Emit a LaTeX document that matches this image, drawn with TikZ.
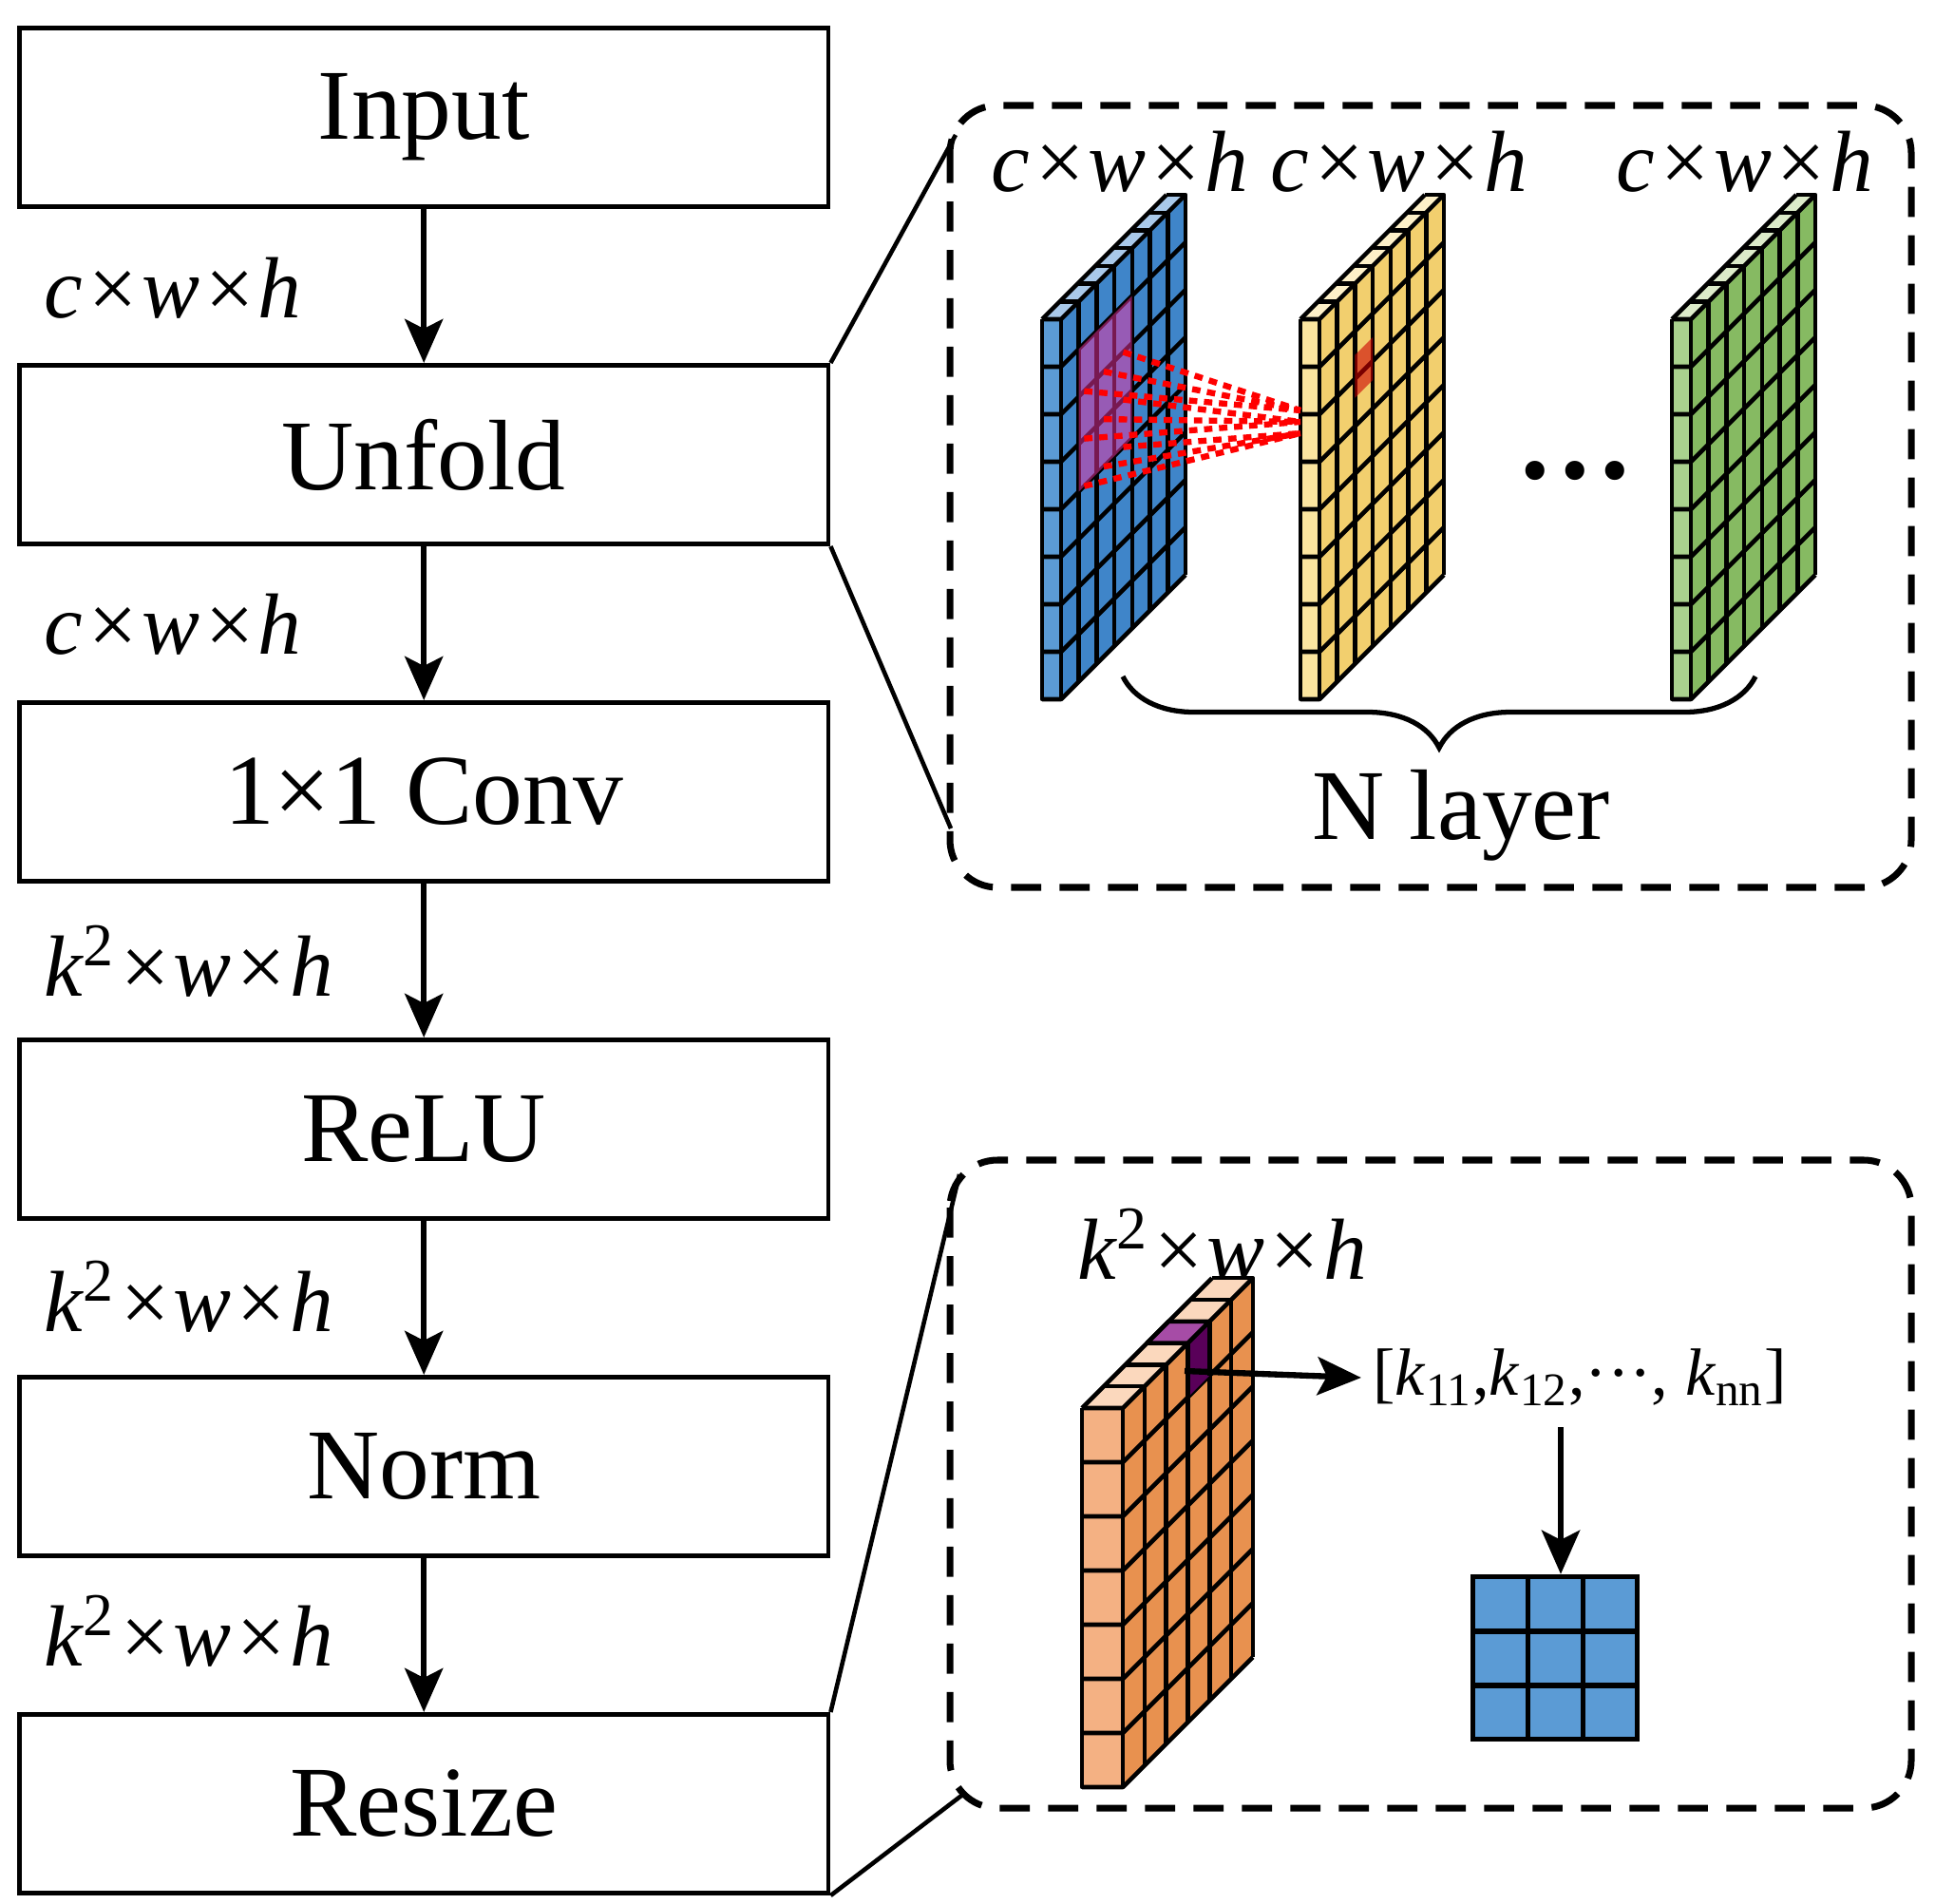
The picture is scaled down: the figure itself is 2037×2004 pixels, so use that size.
\documentclass[tikz,border=0pt]{standalone}
\usepackage{fontspec}
\setmainfont{Liberation Serif}
\usetikzlibrary{arrows.meta,decorations.pathreplacing}
\definecolor{bfront}{HTML}{5B9BD5}\definecolor{bside}{HTML}{3F85C9}\definecolor{btop}{HTML}{A9C9EA}
\definecolor{yfront}{HTML}{FBE5A0}\definecolor{yside}{HTML}{F2CF6E}\definecolor{ytop}{HTML}{FDF0C8}
\definecolor{gfront}{HTML}{A9D18E}\definecolor{gside}{HTML}{86BA62}\definecolor{gtop}{HTML}{DCEBC9}
\definecolor{ofront}{HTML}{F4B183}\definecolor{oside}{HTML}{E8914F}\definecolor{otop}{HTML}{FBD8BD}
\definecolor{kblue}{HTML}{5B9BD5}
\newcommand{\myplate}[9]{% x0,y0,w,rows,rh,D,d,front,side ; top color in \mytop
 \pgfmathsetmacro{\pH}{#4*#5}\pgfmathsetmacro{\pS}{#6*#7}
 \fill[#8] (#1,#2) rectangle ++(#3,\pH);
 \fill[#9] (#1+#3,#2) -- ++(\pS,-\pS) -- ++(0,\pH) -- ++(-\pS,\pS) -- cycle;
 \fill[\mytop] (#1,#2) -- ++(#3,0) -- ++(\pS,-\pS) -- ++(-#3,0) -- cycle;
 \foreach \j in {0,...,#4}{\draw[cell] (#1,#2+\j*#5) -- ++(#3,0) -- ++(\pS,-\pS);}
 \foreach \i in {0,...,#6}{\draw[cell] (#1+\i*#7,#2-\i*#7) -- ++(#3,0) -- ++(0,\pH);}
 \draw[cell] (#1,#2) -- ++(0,\pH) -- ++(#3,0);
 \draw[cell] (#1,#2) -- ++(\pS,-\pS);
}
\begin{document}
\begin{tikzpicture}[x=0.01cm,y=-0.01cm,
 box/.style={draw,line width=1.4pt,minimum width=8.51cm,minimum height=1.88cm,anchor=north west,inner sep=0,font=\fontsize{30}{36}\selectfont},
 dim/.style={anchor=west,font=\fontsize{26}{30}\selectfont\itshape,inner sep=0},
 arr/.style={line width=1.8pt,-{Stealth[length=0.46cm,width=0.4cm,inset=0.1cm]}},
 dbox/.style={draw,line width=2pt,dash pattern=on 9pt off 5.5pt,rounded corners=0.5cm},
 cell/.style={line width=1.3pt,line join=round},
 conn/.style={line width=1.3pt}]
\useasboundingbox (0,0) rectangle (2037,2004);
\node[box] (in) at (18,27) {Input};
\node[box] (un) at (18,382) {Unfold};
\node[box] (cv) at (18,737) {1×1 Conv};
\node[box] (re) at (18,1092) {ReLU};
\node[box] (no) at (18,1447) {Norm};
\node[box] (rs) at (18,1802) {Resize};
\draw[arr] (in) -- (un);
\draw[arr] (un) -- (cv);
\draw[arr] (cv) -- (re);
\draw[arr] (re) -- (no);
\draw[arr] (no) -- (rs);
\node[dim] (l1) at (46,303) {c×w×h};
\node[dim] (l2) at (46,657) {c×w×h};
\node[dim] (l3) at (46,1012) {k\textsuperscript{\upshape 2}×w×h};
\node[dim] (l4) at (46,1365) {k\textsuperscript{\upshape 2}×w×h};
\node[dim] (l5) at (46,1717) {k\textsuperscript{\upshape 2}×w×h};
% dashed boxes
\draw[dbox] (1000,111) rectangle (2012,934);
\draw[dbox] (1000,1221) rectangle (2012,1903);
\coordinate (t1) at (1006,142); \coordinate (t2) at (1001,872);
\coordinate (b1) at (1010,1236); \coordinate (b2) at (1012,1890);
\draw[conn] (un.north east) -- (t1);
\draw[conn] (un.south east) -- (t2);
\draw[conn] (rs.north east) -- (b1);
\draw[conn] (rs.south east) -- (b2);
% plates
\def\mytop{btop}
\myplate{1097}{336}{20}{8}{50}{7}{18.7}{bfront}{bside}
\fill[magenta!80!white,opacity=0.5] (1117+18.7,336+50-18.7) -- ++(56,-56) -- ++(0,150) -- ++(-56,56) -- cycle;
\def\mytop{ytop}
\myplate{1369}{336}{20}{8}{50}{7}{18.7}{yfront}{yside}
\fill[red!80!black,opacity=0.6] (1389+37.4,386-37.4+25) -- ++(18.7,-18.7) -- ++(0,45) -- ++(-18.7,18.7) -- cycle;
\def\mytop{gtop}
\myplate{1760}{336}{20}{8}{50}{7}{18.7}{gfront}{gside}
\foreach \i in {1.3,2.4,3.5}{\foreach \r in {2,3,4}{
 \pgfmathsetmacro{\py}{336+\r*50-\i*18.7}
 \pgfmathsetmacro{\ty}{432+(\r-2)*12}
 \draw[red,line width=1.8pt,dash pattern=on 2.5pt off 2pt] (1117+\i*18.7,\py) -- (1369,\ty);}}
\node[font=\fontsize{26}{30}\selectfont\itshape] (d1) at (1179,170) {c×w×h};
\node[font=\fontsize{26}{30}\selectfont\itshape] (d2) at (1473,170) {c×w×h};
\node[font=\fontsize{26}{30}\selectfont\itshape] (d3) at (1837,170) {c×w×h};
\node[font=\fontsize{24}{30}\selectfont] (dots) at (1658,505) {\textbullet\hspace{0.15em}\textbullet\hspace{0.15em}\textbullet};
\draw[line width=1.5pt,decorate,decoration={brace,mirror,amplitude=0.75cm}] (1182,712) -- (1848,712);
\node[font=\fontsize{30}{36}\selectfont] (nl) at (1538,858) {N layer};
% bottom
\def\mytop{otop}
\myplate{1139}{1482}{43}{7}{57}{6}{22.8}{ofront}{oside}
\fill[violet!70!white] (1139+3*22.8,1482-3*22.8) -- ++(43,0) -- ++(22.8,-22.8) -- ++(-43,0) -- cycle;
\fill[violet!70!black] (1182+3*22.8,1482-3*22.8) -- ++(22.8,-22.8) -- ++(0,57) -- ++(-22.8,22.8) -- cycle;
\draw[cell] (1139+3*22.8,1482-3*22.8) -- ++(43,0) -- ++(22.8,-22.8) -- ++(-43,0) -- cycle;
\draw[cell] (1182+3*22.8,1482-3*22.8) -- ++(0,57);
\draw[cell] (1182+4*22.8,1482-4*22.8) -- ++(0,57);
\node[font=\fontsize{26}{30}\selectfont\itshape] (kl) at (1287,1310) {k\textsuperscript{\upshape 2}×w×h};
\coordinate (ks) at (1247,1443);
\node[font=\fontsize{20}{24}\selectfont,anchor=center] (kv) at (1663,1450) {[\textit{k}\textsubscript{11},\textit{k}\textsubscript{12},···, \textit{k}\textsubscript{nn}]};
\draw[arr] (ks) -- (kv.west);
\node[draw,line width=1.5pt,fill=kblue,minimum width=1.73cm,minimum height=1.71cm,inner sep=0] (kg) at (1637,1745) {};
\draw[line width=1.5pt] (1551+57.7,1660) -- ++(0,171) (1551+115.3,1660) -- ++(0,171)
 (1551,1660+57) -- ++(173,0) (1551,1660+114) -- ++(173,0);
\draw[arr] (1643,1502) -- (kg.north -| 1643,0);
\end{tikzpicture}
\end{document}
